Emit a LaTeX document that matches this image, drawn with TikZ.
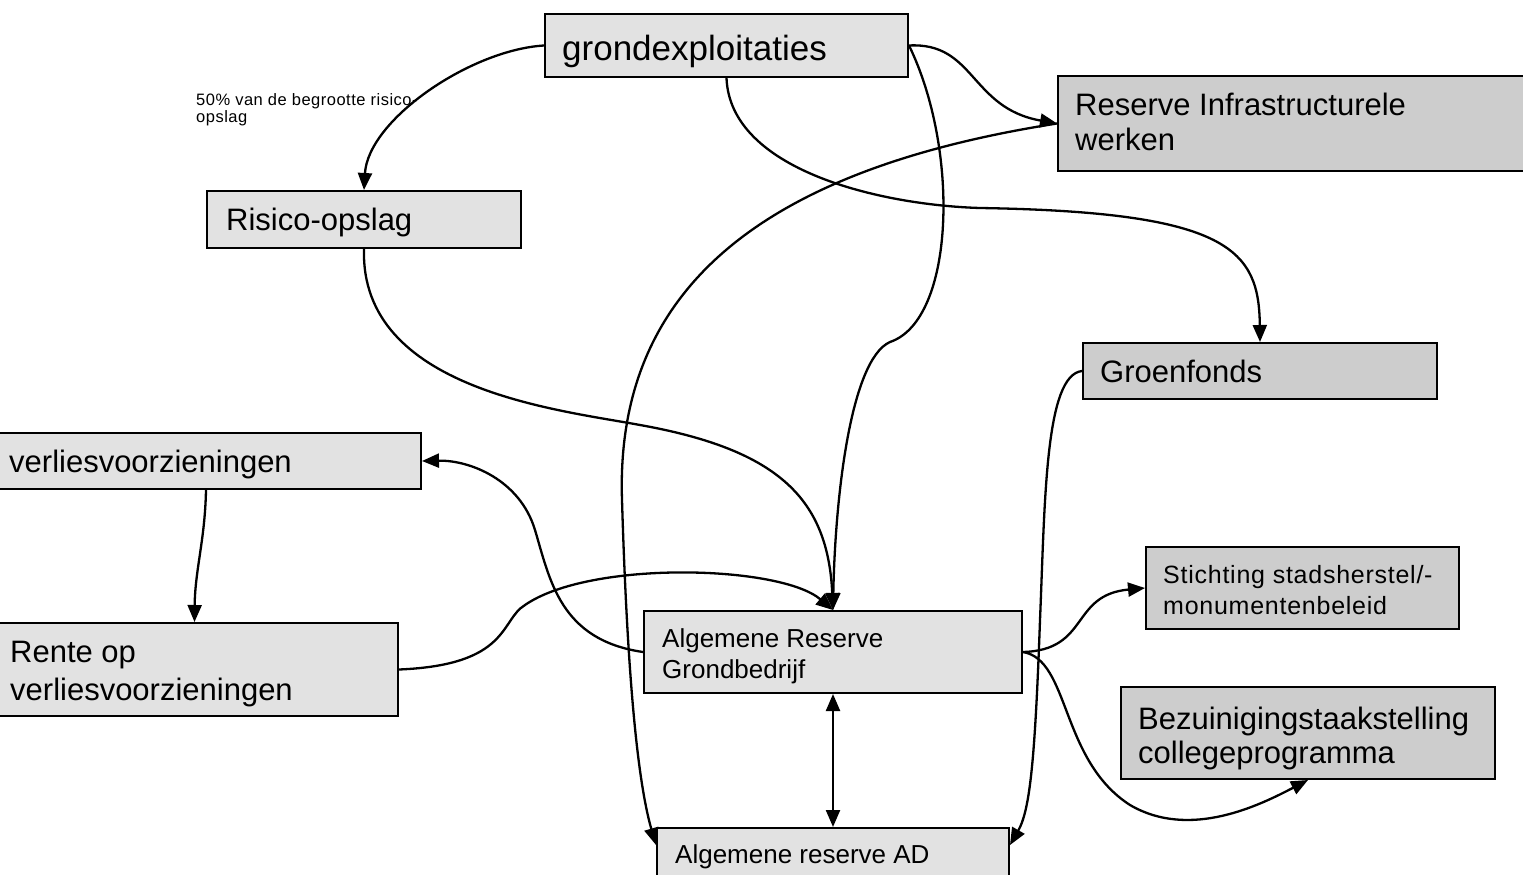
\documentclass[tikz,border=0pt]{standalone}
\usepackage{fontspec}
\setmainfont{Liberation Sans}
\usetikzlibrary{arrows.meta}
\definecolor{boxlight}{HTML}{E2E2E2}
\definecolor{boxdark}{HTML}{CDCDCD}
\newcommand\fsz[2]{\fontsize{#1}{#2}\selectfont}
\begin{document}
\begin{tikzpicture}[x=1pt,y=-1pt,
  box/.style={draw=black, line width=2pt, inner sep=0pt, anchor=north west},
  light/.style={box, fill=boxlight},
  dark/.style={box, fill=boxdark},
  txt/.style={inner sep=0pt, anchor=north west, align=left},
  conn/.style={line width=2.3pt, -{Triangle[length=17pt,width=14pt]}},
  dconn/.style={line width=2.3pt, {Triangle[length=17pt,width=14pt]}-{Triangle[length=17pt,width=14pt]}}
]
\useasboundingbox (0,0) rectangle (1523,875);

% boxes
\node[light, minimum width=363pt, minimum height=63pt] (grond) at (544,13) {};
\node[dark, minimum width=473pt, minimum height=95pt] (rinfra) at (1057,75) {};
\node[light, minimum width=314pt, minimum height=57pt] (risico) at (206,190) {};
\node[dark, minimum width=354pt, minimum height=56pt] (groen) at (1082,342) {};
\node[light, minimum width=430pt, minimum height=56pt] (verlies) at (-10,432) {};
\node[light, minimum width=407pt, minimum height=93pt] (rente) at (-10,622) {};
\node[light, minimum width=378pt, minimum height=82pt] (arg) at (643,610) {};
\node[dark, minimum width=313pt, minimum height=82pt] (stich) at (1145,546) {};
\node[dark, minimum width=374pt, minimum height=92pt] (bezuin) at (1120,686) {};
\node[light, minimum width=352pt, minimum height=63pt] (ad) at (656,827) {};

% texts
\node[txt, font=\fsz{35}{40}] (tgrond) at (562,32) {\strut grondexploitaties};
\node[txt, font=\fsz{31}{35}] (trinfra) at (1075,90.5) {\strut Reserve Infrastructurele\\werken};
\node[txt, font=\fsz{31}{35}] (trisico) at (226,205.5) {\strut Risico-opslag};
\node[txt, font=\fsz{31}{35}] (tgroen) at (1100,357.5) {\strut Groenfonds};
\node[txt, font=\fsz{31}{35}] (tverlies) at (9,447.5) {\strut verliesvoorzieningen};
\node[txt, font=\fsz{31}{38}] (trente) at (10,635.4) {\strut Rente op\\verliesvoorzieningen};
\node[txt, font=\fsz{26}{31}] (targ) at (662,625.3) {\strut Algemene Reserve\\Grondbedrijf};
\node[txt, font=\fsz{25}{31}\addfontfeature{LetterSpace=3}] (tstich) at (1163,561.3) {\strut Stichting stadsherstel/-\\monumentenbeleid};
\node[txt, font=\fsz{31}{34}] (tbez) at (1138,705.2) {\strut Bezuinigingstaakstelling\\collegeprogramma};
\node[txt, font=\fsz{26}{31}] (tad) at (675,841.3) {\strut Algemene reserve AD};
\node[txt, font=\fsz{16.5}{17.5}\addfontfeature{LetterSpace=3}] (lbl) at (196,92.8) {\strut 50\% van de begrootte risico-\\opslag};

% connectors
\draw[conn] (grond.west) .. controls (470,50) and (368,120) .. (risico.north);
\draw[conn] (grond.east) .. controls (975,42) and (970,108) .. (rinfra.west);
\draw[conn] (grond.south) .. controls (730,170) and (880,205) .. (980,208) .. controls (1230,212) and (1259,250) .. (groen.north);
\draw[conn] (grond.east) .. controls (960,150) and (955,320) .. (890,342) .. controls (850,360) and (835,500) .. (arg.north);
\draw[conn] (risico.south) .. controls (360,390) and (560,410) .. (640,425) .. controls (780,450) and (828,500) .. (arg.north);
\draw[conn] (arg.west) .. controls (560,640) and (550,580) .. (535,530) .. controls (520,480) and (470,460) .. (verlies.east);
\draw[conn] (verlies.south) .. controls (205,540) and (195,570) .. (rente.north);
\draw[conn] (rente.east) .. controls (510,665) and (500,620) .. (525,605) .. controls (590,560) and (780,565) .. (arg.north);
\draw[dconn] (arg.south) -- (ad.north);
\draw[conn] (rinfra.west) .. controls (760,170) and (615,290) .. (622,500) .. controls (628,700) and (640,790) .. ([yshift=-18pt]ad.north west);
\draw[conn] (groen.west) .. controls (1045,375) and (1045,500) .. (1040,620) .. controls (1035,760) and (1030,810) .. ([yshift=-18pt]ad.north east);
\draw[conn] (arg.east) .. controls (1090,650) and (1070,595) .. (stich.west);
\draw[conn] (arg.east) .. controls (1070,660) and (1060,760) .. (1130,805) .. controls (1190,840) and (1260,805) .. (bezuin.south);
\end{tikzpicture}
\end{document}
